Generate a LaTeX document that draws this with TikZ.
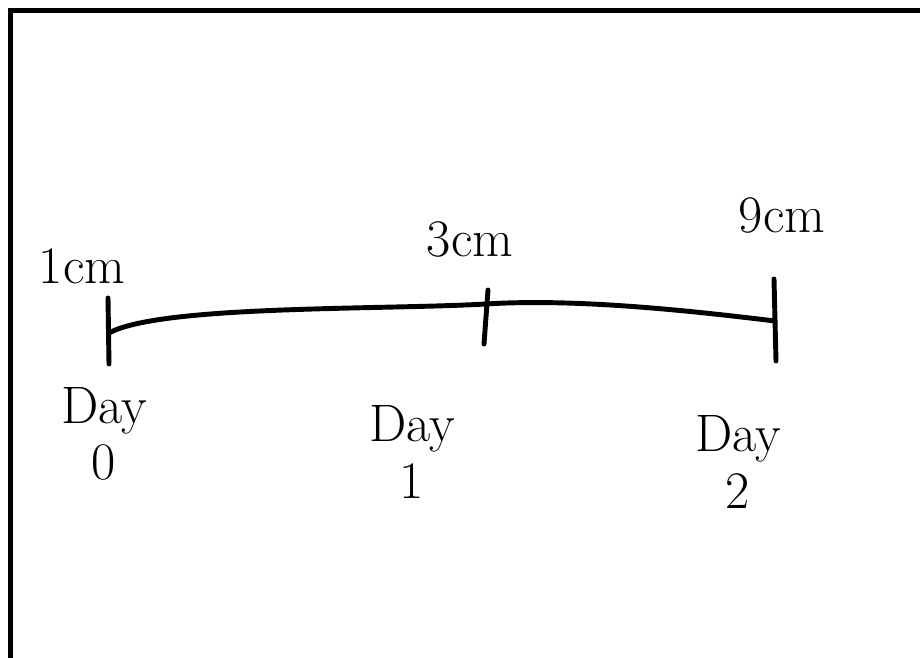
\documentclass[tikz,border=0pt]{standalone}
\usepackage{amsmath,amssymb,amsfonts}
\usepackage{tikz}

\begin{document}
\begin{tikzpicture}[x=0.02cm,y=-0.02cm,line cap=round,
        lbl/.style={font=\fontsize{30}{32}\selectfont, align=center, inner sep=0pt}]
        \useasboundingbox (0,0) rectangle (920,658);
        % frame, only top and left edges
        \draw[line width=3pt,line cap=butt] (920,10.5) -- (10.5,10.5) -- (10.5,658);
        % tick marks
        \coordinate (t0a) at (108,298);
        \coordinate (t0b) at (109,364);
        \coordinate (t1a) at (488,290);
        \coordinate (t1b) at (484,344);
        \coordinate (t2a) at (774,279);
        \coordinate (t2b) at (776,361);
        \coordinate (d0) at (109,333);
        \coordinate (d1) at (486,304);
        \coordinate (d2) at (775,321);
        \draw[line width=2.8pt] (t0a) -- (t0b);
        \draw[line width=2.8pt] (t1a) -- (t1b);
        \draw[line width=2.8pt] (t2a) -- (t2b);
        \draw[line width=2.8pt] (d0) .. controls (160,305) and (380,310) .. (d1)
            .. controls (580,298) and (700,312) .. (d2);
        % lengths above
        \node[lbl] (len0) at (82,266) {1cm};
        \node[lbl] (len1) at (470,240) {3cm};
        \node[lbl] (len2) at (782,216) {9cm};
        % days below
        \node[lbl] (day0) at (104,434) {Day\\0};
        \node[lbl] (day1) at (412,452) {Day\\1};
        \node[lbl] (day2) at (738,462) {Day\\2};
    \end{tikzpicture}
\end{document}
